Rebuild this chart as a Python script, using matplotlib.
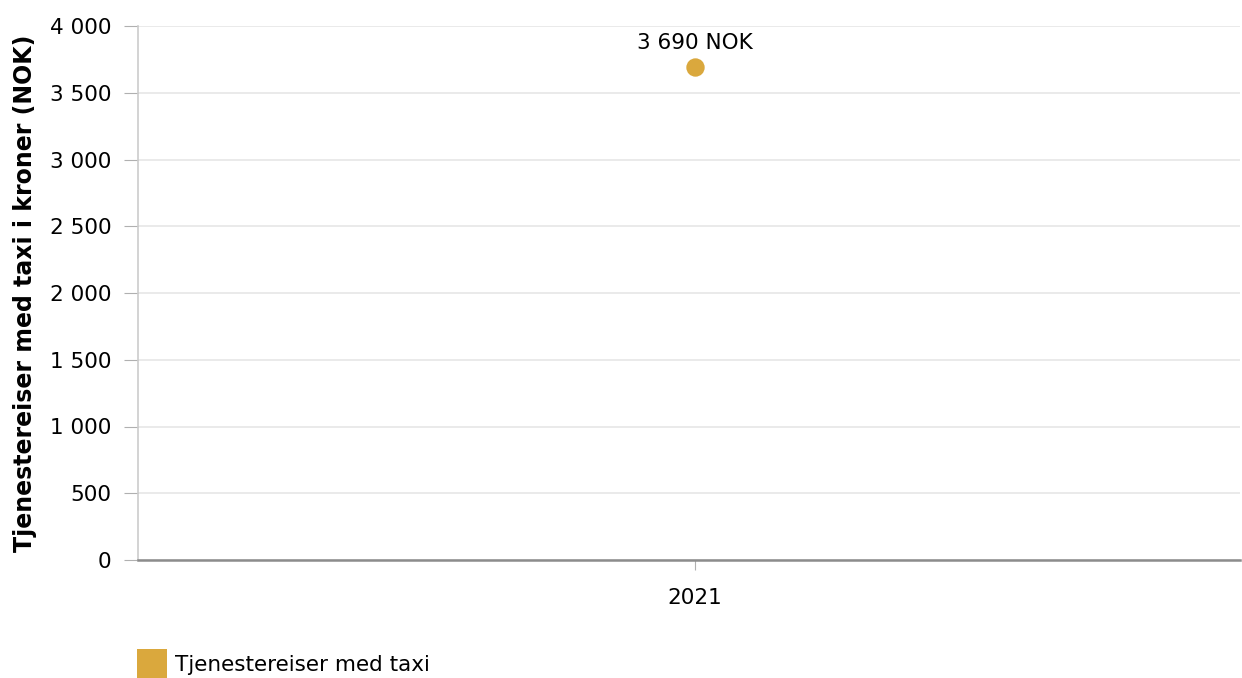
import matplotlib.pyplot as plt
from matplotlib.lines import Line2D
from matplotlib.ticker import FuncFormatter

# data
years = ["2021"]
taxi_nok = [3690]
series_name = "Tjenestereiser med taxi"
point_color = "#DAA83D"

plt.rcParams["font.family"] = ["DejaVu Sans"]

fig = plt.figure(figsize=(12.42, 6.78), dpi=100)
ax = fig.add_axes([138 / 1242, 1 - 560 / 678, 1102 / 1242, 534 / 678])

x = list(range(len(years)))
ax.scatter(x, taxi_nok, s=175, color=point_color, zorder=3, linewidths=0)
for xi, v in zip(x, taxi_nok):
    ax.annotate(f"{v:,}".replace(",", " ") + " NOK", (xi, v), xytext=(0, 10),
                textcoords="offset points", ha="center", va="bottom", fontsize=15.5)

ax.set_xlim(-0.5054, 0.4946)
ax.set_ylim(0, 4000)
ax.set_yticks(range(0, 4001, 500))
ax.yaxis.set_major_formatter(FuncFormatter(lambda v, p: f"{int(v):,}".replace(",", " ")))
ax.set_xticks(x)
ax.set_xticklabels(years)

ax.grid(True, axis="y", color="#e6e6e6", linewidth=1.2)
ax.set_axisbelow(True)
for s in ["top", "right"]:
    ax.spines[s].set_visible(False)
ax.spines["left"].set_color("#cccccc")
ax.spines["left"].set_linewidth(1.2)
ax.spines["bottom"].set_color("#8c8c8c")
ax.spines["bottom"].set_linewidth(1.8)
ax.tick_params(axis="y", length=10, color="#b0b0b0", labelsize=15.5, pad=9)
ax.tick_params(axis="x", length=7, color="#b0b0b0", labelsize=15.5, pad=13)

ax.set_ylabel("Tjenestereiser med taxi i kroner (NOK)", fontsize=17,
              fontweight="bold", labelpad=9)

handle = Line2D([], [], marker="s", linestyle="none", markersize=22,
                markerfacecolor=point_color, markeredgewidth=0)
fig.legend([handle], [series_name], loc="lower left",
           bbox_to_anchor=(115 / 1242, -0.018), frameon=False, fontsize=15.5,
           handletextpad=0.1, borderaxespad=0.3)

fig.savefig("out.png", dpi=100)
